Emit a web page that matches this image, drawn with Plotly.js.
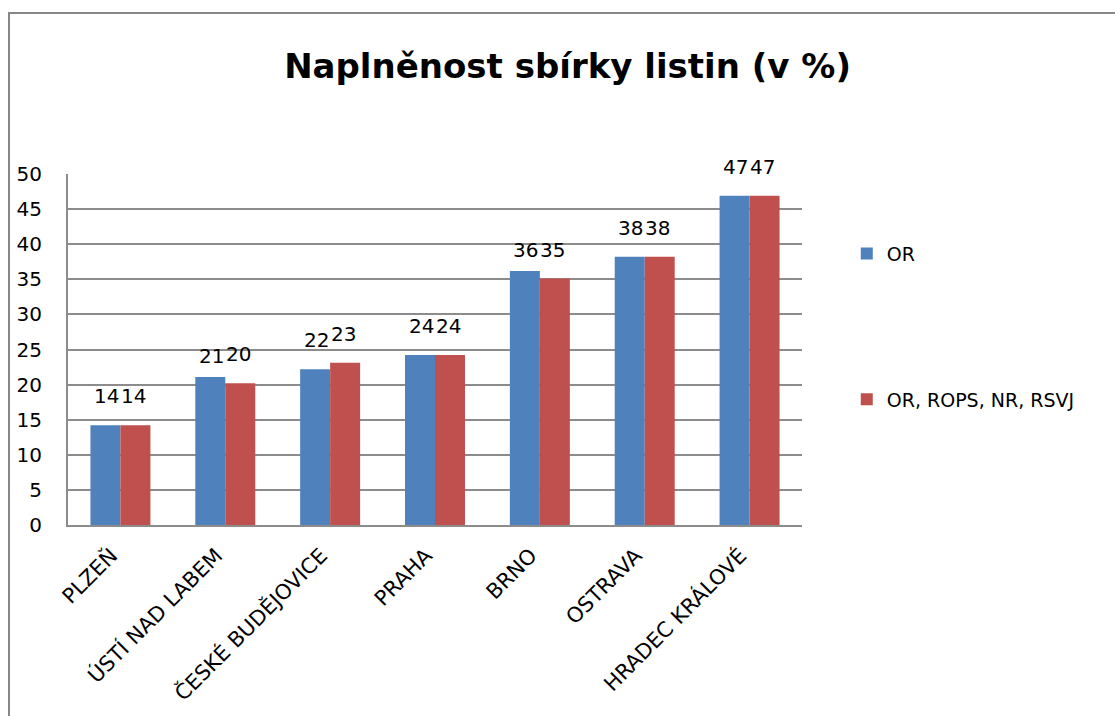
<!DOCTYPE html>
<html>
<head>
<meta charset="utf-8">
<script src="https://cdn.plot.ly/plotly-3.0.1.min.js"></script>
<style>
html,body{margin:0;padding:0;background:#fff;}
#chart{width:1115px;height:716px;position:absolute;left:0;top:0;}
#frame{position:absolute;left:8px;top:12px;width:1200px;height:800px;border-left:2px solid #878787;border-top:2px solid #878787;pointer-events:none;}
</style>
</head>
<body>
<div id="chart"></div>
<div id="frame"></div>
<script>
const categories = ["PLZEŇ", "ÚSTÍ NAD LABEM", "ČESKÉ BUDĚJOVICE", "PRAHA", "BRNO", "OSTRAVA", "HRADEC KRÁLOVÉ"];
const seriesOR = [14.2, 21.1, 22.2, 24.2, 36.2, 38.2, 46.9];
const seriesAll = [14.2, 20.2, 23.1, 24.2, 35.1, 38.2, 46.9];
const seriesNames = ["OR", "OR, ROPS, NR, RSVJ"];
const labelsOR = ["14", "21", "22", "24", "36", "38", "47"];
const labelsAll = ["14", "20", "23", "24", "35", "38", "47"];
const yTicks = [0, 5, 10, 15, 20, 25, 30, 35, 40, 45, 50];

const FONT = "'DejaVu Sans', 'Open Sans', sans-serif";
const colors = ["#4F81BD", "#C0504D"];

const traces = [
  {type: "bar", name: seriesNames[0], x: categories, y: seriesOR, marker: {color: colors[0]}, legendgroup: "a", hoverinfo: "x+y"},
  {type: "bar", name: seriesNames[1], x: categories, y: seriesAll, marker: {color: colors[1]}, legendgroup: "b", hoverinfo: "x+y"}
];

const annotations = [];
categories.forEach((c, i) => {
  const lower = seriesOR[i] > seriesAll[i];
  annotations.push({x: c, y: seriesOR[i], text: labelsOR[i], showarrow: false, xshift: -14, yshift: lower ? 7 : 15, yanchor: "bottom", font: {family: FONT, size: 20, color: "#000"}});
  annotations.push({x: c, y: seriesAll[i], text: labelsAll[i], showarrow: false, xshift: 13, yshift: 15, yanchor: "bottom", font: {family: FONT, size: 20, color: "#000"}});
});

const layout = {
  width: 1115, height: 716,
  margin: {l: 68, r: 313, t: 174, b: 191},
  paper_bgcolor: "#fff", plot_bgcolor: "#fff",
  title: {text: "<b>Naplněnost sbírky listin (v %)</b>", x: 0.509, xref: "container", xanchor: "center", y: 0.907, yref: "container", yanchor: "middle", font: {family: FONT, size: 34, color: "#000"}},
  font: {family: FONT, size: 20, color: "#000"},
  barmode: "group",
  bargap: 0.428, bargroupgap: 0,
  xaxis: {type: "category", tickangle: -45, showgrid: false, showline: true, linecolor: "#8c8c8c", linewidth: 2, ticks: "", ticklabelstandoff: 8, ticklabelshift: -9, tickfont: {family: FONT, size: 21, color: "#000"}, automargin: false},
  yaxis: {range: [0, 50], tickvals: yTicks, showgrid: true, gridcolor: "#8c8c8c", gridwidth: 2, showline: true, linecolor: "#8c8c8c", linewidth: 2, zeroline: false, ticks: "", ticklabelstandoff: 20, tickfont: {family: FONT, size: 20, color: "#000"}, automargin: false},
  legend: {x: 1.061, xanchor: "left", y: 0.827, yanchor: "top", traceorder: "grouped", tracegroupgap: 118, font: {family: FONT, size: 19, color: "#000"}, bgcolor: "rgba(0,0,0,0)"},
  annotations: annotations,
  showlegend: true
};

Plotly.newPlot("chart", traces, layout, {displayModeBar: false, staticPlot: true});
</script>
</body>
</html>
